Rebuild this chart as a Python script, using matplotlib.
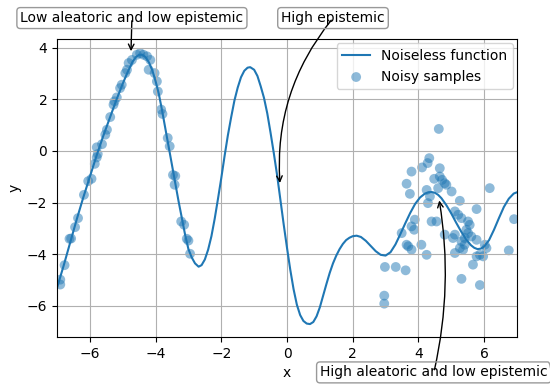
import matplotlib
matplotlib.use("Agg")
import matplotlib.pyplot as plt

# noiseless function
CURVE_X = [-7.0, -6.8, -6.6, -6.4, -6.2, -6.0, -5.8, -5.6, -5.4, -5.2, -5.0, -4.85,
           -4.7, -4.6, -4.5, -4.4, -4.3, -4.2, -4.1, -4.0, -3.9, -3.8, -3.7, -3.6,
           -3.5, -3.4, -3.3, -3.2, -3.1, -3.0, -2.9, -2.8, -2.69, -2.6, -2.5, -2.4,
           -2.3, -2.2, -2.1, -2.0, -1.9, -1.8, -1.7, -1.6, -1.5, -1.4, -1.3, -1.2,
           -1.12, -1.0, -0.9, -0.8, -0.7, -0.6, -0.5, -0.4, -0.3, -0.2, -0.1, 0.0,
           0.1, 0.2, 0.3, 0.4, 0.5, 0.6, 0.7, 0.8, 0.9, 1.0, 1.1, 1.2, 1.3, 1.4,
           1.5, 1.6, 1.7, 1.8, 1.9, 2.0, 2.12, 2.25, 2.4, 2.55, 2.7, 2.85, 3.0,
           3.15, 3.3, 3.45, 3.6, 3.75, 3.9, 4.05, 4.2, 4.3, 4.4, 4.5, 4.6, 4.7,
           4.85, 5.0, 5.15, 5.3, 5.45, 5.6, 5.7, 5.8, 5.9, 6.0, 6.15, 6.3, 6.45,
           6.6, 6.75, 6.9, 7.0]
CURVE_Y = [-5.3, -4.45, -3.55, -2.65, -1.8, -1.0, -0.2, 0.55, 1.25, 1.95, 2.6, 3.05,
           3.45, 3.63, 3.72, 3.72, 3.62, 3.42, 3.12, 2.7, 2.2, 1.55, 0.85, 0.15,
           -0.55, -1.25, -1.95, -2.6, -3.25, -3.8, -4.12, -4.35, -4.48, -4.42, -4.2, -3.82,
           -3.3, -2.62, -1.85, -1.05, -0.2, 0.6, 1.3, 1.95, 2.45, 2.85, 3.1, 3.22,
           3.24, 3.14, 2.9, 2.5, 2.05, 1.45, 0.7, -0.1, -0.95, -1.9, -2.85, -3.75,
           -4.6, -5.35, -5.95, -6.35, -6.58, -6.68, -6.7, -6.62, -6.4, -6.05, -5.6, -5.15, -4.72, -4.35,
           -4.05, -3.8, -3.6, -3.45, -3.36, -3.3, -3.28, -3.33, -3.48, -3.68, -3.88, -4.02, -4.05,
           -3.92, -3.62, -3.22, -2.8, -2.4, -2.05, -1.8, -1.65, -1.6, -1.59, -1.62, -1.7, -1.83,
           -2.1, -2.42, -2.78, -3.12, -3.42, -3.65, -3.75, -3.8, -3.78, -3.7, -3.45, -3.05, -2.6,
           -2.17, -1.85, -1.65, -1.6]

# noisy samples, left cluster (low noise) and right cluster (high noise)
LEFT_X = [-6.90, -6.90, -6.77, -6.62, -6.57, -6.45, -6.36, -6.18, -6.05, -5.95, -5.85,
          -5.79, -5.76, -5.79, -5.63, -5.53, -5.48, -5.38, -5.28, -5.25, -5.18, -5.08,
          -5.03, -4.92, -4.87, -4.82, -4.72, -4.57, -4.47, -4.37, -4.26, -4.16, -4.21,
          -4.03, -3.96, -3.93, -3.83, -3.79, -3.63, -3.57, -3.47, -3.40, -3.42, -3.22,
          -3.13, -3.05, -3.00, -2.95]
LEFT_Y = [-4.98, -5.17, -4.42, -3.40, -3.39, -2.95, -2.60, -1.70, -1.17, -1.08, -0.50,
          -0.25, -0.12, 0.14, 0.26, 0.63, 0.82, 1.31, 1.79, 1.92, 2.07, 2.43,
          2.56, 3.01, 3.14, 3.40, 3.52, 3.72, 3.78, 3.72, 3.66, 3.52, 3.14,
          3.01, 2.69, 2.30, 1.60, 1.43, 0.50, 0.18, -0.93, -0.97, -1.31, -2.73,
          -2.86, -3.40, -3.47, -3.98]
RIGHT_X = [4.62, 4.33, 4.28, 4.11, 3.79, 4.65, 4.48, 3.64, 3.74, 4.65, 4.72, 4.80,
           4.85, 5.01, 4.60, 4.25, 4.35, 4.29, 6.17, 5.26, 5.11, 5.21, 5.31, 5.77,
           4.40, 4.55, 3.89, 3.79, 3.87, 3.49, 5.51, 5.56, 5.46, 5.51, 5.61, 5.41,
           4.80, 5.11, 5.05, 5.31, 5.41, 5.26, 5.36, 5.77, 6.02, 6.07, 3.64, 3.69,
           4.09, 3.79, 4.25, 5.11, 5.77, 5.87, 5.97, 5.66, 6.75, 6.91, 2.98, 3.31,
           3.61, 5.31, 5.87, 2.96, 2.96]
RIGHT_Y = [0.85, -0.28, -0.47, -0.64, -0.80, -0.67, -1.08, -1.27, -1.66, -0.99, -1.12, -1.25,
           -1.31, -1.57, -1.44, -1.51, -1.76, -2.02, -1.44, -1.93, -2.34, -2.47, -2.60, -2.25,
           -2.73, -2.73, -2.66, -2.92, -3.05, -3.18, -2.73, -2.86, -3.05, -3.18, -3.31, -3.37,
           -3.24, -3.24, -3.37, -3.50, -3.63, -3.76, -3.82, -3.44, -3.63, -3.76, -3.63, -3.69,
           -3.63, -3.82, -4.02, -3.95, -4.08, -4.02, -4.08, -4.40, -3.85, -2.64, -4.49, -4.49,
           -4.62, -4.95, -5.19, -5.60, -5.91]


def main():
    fig = plt.figure(figsize=(5.5, 3.85), dpi=100)
    ax = fig.add_axes([57 / 550, 1 - 337 / 385, 460 / 550, 298 / 385])

    ax.plot(CURVE_X, CURVE_Y, color='C0', lw=1.5, label='Noiseless function')
    ax.scatter(LEFT_X + RIGHT_X, LEFT_Y + RIGHT_Y, color='C0', alpha=0.5, s=50,
               edgecolors='none', label='Noisy samples')

    ax.set_xlim(-7, 7)
    ax.set_ylim(-7.2, 4.33)
    ax.set_xlabel('x')
    ax.set_ylabel('y')
    ax.grid(True)
    ax.legend(loc='upper right', borderaxespad=0.3)

    box = dict(boxstyle='round,pad=0.25', fc='none', ec='0.6')
    ax.annotate('Low aleatoric and low epistemic', xy=(-4.75, 3.75), xytext=(-4.72, 5.14),
                ha='center', va='center', bbox=box, annotation_clip=False,
                arrowprops=dict(arrowstyle='->', patchA=None, color='k'))
    ax.annotate('High epistemic', xy=(-0.21, -1.35), xytext=(1.40, 5.14),
                ha='center', va='center', bbox=box, annotation_clip=False,
                arrowprops=dict(arrowstyle='->', patchA=None, color='k',
                                connectionstyle='arc3,rad=0.2'))
    ax.annotate('High aleatoric and low epistemic', xy=(4.62, -1.81), xytext=(4.47, -8.57),
                ha='center', va='center', bbox=box, annotation_clip=False,
                arrowprops=dict(arrowstyle='->', patchA=None, color='k',
                                connectionstyle='arc3,rad=0.1'))

    fig.savefig('out.png', dpi=100)


if __name__ == '__main__':
    main()
